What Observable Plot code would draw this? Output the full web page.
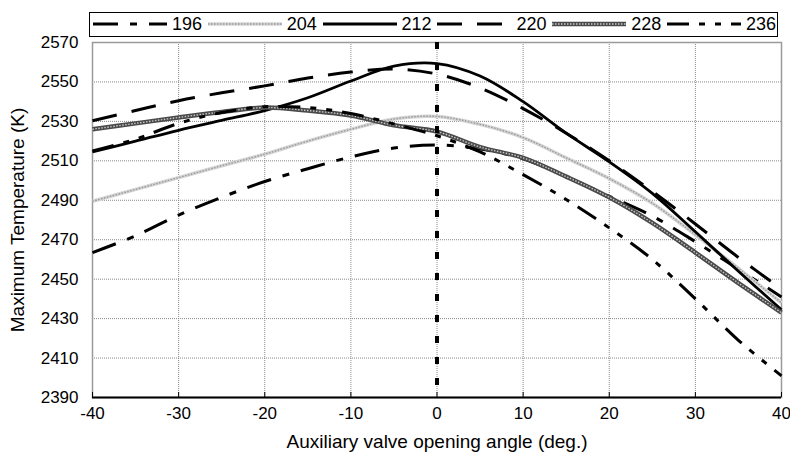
<!DOCTYPE html>
<html>
<head>
<meta charset="utf-8">
<script src="https://cdn.jsdelivr.net/npm/d3@7"></script>
<script src="https://cdn.jsdelivr.net/npm/@observablehq/plot@0.6"></script>
<style>
  html, body { margin: 0; padding: 0; background: #fff; }
  #wrap { position: relative; width: 790px; height: 461px; font-family: "Liberation Sans", Arial, sans-serif; }
  #legend { position: absolute; left: 89px; top: 12px; width: 689px; height: 25px; border: 1.5px solid #000; background: #fff; box-sizing: border-box; overflow: hidden; white-space: nowrap; }
  .item { position: absolute; top: 0; height: 22px; display: flex; align-items: center; }
  .item span { font-size: 18px; margin-left: 5px; line-height: 22px; }
</style>
</head>
<body>
<div id="wrap"><div id="legend"></div></div>
<script>
// ---- data ----
const angles = [-40, -35, -30, -25, -20, -15, -10, -5, 0, 5, 10, 15, 20, 25, 30, 35, 40];
const seriesNames = ["196", "204", "212", "220", "228", "236"];
const t196 = [2463.5, 2472, 2482.5, 2491.5, 2499.5, 2506, 2512, 2516.5, 2518, 2516, 2511, 2502, 2492, 2482, 2469, 2455, 2441];
const t204 = [2489.5, 2495.5, 2501.5, 2507.5, 2513.4, 2520, 2526, 2531.2, 2532.5, 2528.5, 2521.8, 2511.5, 2501, 2488.5, 2472.5, 2455.5, 2438];
const t212 = [2514.5, 2520, 2525.5, 2530.5, 2535.5, 2542, 2550.5, 2558, 2559.3, 2553, 2540, 2524, 2509.5, 2493.5, 2474, 2454, 2434.5];
const t220 = [2530.3, 2535.5, 2540.5, 2544.5, 2548, 2552, 2555, 2556.6, 2554, 2547, 2536.5, 2524, 2510, 2494.5, 2478, 2461, 2445];
const t228 = [2526, 2529, 2532, 2534.8, 2537, 2535.5, 2533, 2528, 2524.8, 2517, 2511.5, 2502, 2491.5, 2478.5, 2463.5, 2448, 2433];
const t236 = [2515, 2521, 2529, 2534.5, 2537.4, 2537, 2534, 2528.7, 2522.7, 2514.5, 2503, 2490.4, 2476, 2460, 2440, 2419, 2401];
const xTicks = [-40, -30, -20, -10, 0, 10, 20, 30, 40];
const yTicks = [2390, 2410, 2430, 2450, 2470, 2490, 2510, 2530, 2550, 2570];
const refAngle = [0];
const xTitle = "Auxiliary valve opening angle (deg.)";
const yTitle = "Maximum Temperature (K)";

// ---- styles ----
const styles = {
  "196": [{stroke: "#000", strokeWidth: 3, strokeDasharray: "25,12,7,12"}],
  "204": [{stroke: "#d4d4d4", strokeWidth: 3.5}, {stroke: "#9a9a9a", strokeWidth: 1.4, strokeDasharray: "1.5,1.5"}],
  "212": [{stroke: "#000", strokeWidth: 2.8}],
  "220": [{stroke: "#000", strokeWidth: 3, strokeDasharray: "25,15"}],
  "228": [{stroke: "#4a4a4a", strokeWidth: 4.5}, {stroke: "#c8c8c8", strokeWidth: 1.4, strokeDasharray: "1.5,1.5"}],
  "236": [{stroke: "#000", strokeWidth: 3, strokeDasharray: "22,10,6,10,6,10"}]
};
const valuesBy = {"196": t196, "204": t204, "212": t212, "220": t220, "228": t228, "236": t236};
const rows = name => angles.map((a, i) => ({angle: a, temp: valuesBy[name][i]}));

const lineMarks = [];
for (const name of seriesNames) {
  for (const s of styles[name]) {
    lineMarks.push(Plot.line(rows(name), {x: "angle", y: "temp", curve: "catmull-rom", strokeLinecap: "butt", ...s}));
  }
}

const W = 790, H = 461, mL = 92, mR = 9, mT = 42, mB = 64;
const plot = Plot.plot({
  width: W, height: H,
  marginLeft: mL, marginRight: mR, marginTop: mT, marginBottom: mB,
  style: {fontFamily: "'Liberation Sans', Arial, sans-serif", fontSize: "17px", color: "#000", background: "#fff"},
  x: {domain: [-40, 40]},
  y: {domain: [2390, 2570]},
  marks: [
    Plot.gridX(xTicks, {stroke: "#8a8a8a", strokeOpacity: 1, strokeDasharray: "1,1"}),
    Plot.gridY(yTicks, {stroke: "#8a8a8a", strokeOpacity: 1, strokeDasharray: "1,1"}),
    Plot.frame({stroke: "#9a9a9a", strokeWidth: 1.5}),
    Plot.ruleY([2390], {stroke: "#000", strokeWidth: 2}),
    Plot.tickX(xTicks, {x: d => d, stroke: "#000", strokeWidth: 1, insetTop: H - mT - mB - 5}),
    ...lineMarks,
    Plot.ruleX(refAngle, {stroke: "#000", strokeWidth: 4, strokeDasharray: "7,14"}),
    Plot.axisX({ticks: xTicks, tickSize: 0, tickPadding: 9, tickFormat: d => String(d), label: null, fontSize: 17}),
    Plot.axisX({ticks: [], label: xTitle, labelAnchor: "center", labelArrow: "none", labelOffset: 50, fontSize: 19}),
    Plot.axisY({ticks: yTicks, tickSize: 0, tickPadding: 14, tickFormat: d => String(d), label: null, fontSize: 17}),
    Plot.axisY({ticks: [], label: yTitle, labelAnchor: "center", labelArrow: "none", labelOffset: 82, fontSize: 19})
  ]
});
document.getElementById("wrap").prepend(plot);

// ---- legend ----
const legend = document.getElementById("legend");
seriesNames.forEach((name, i) => {
  const item = document.createElement("div");
  item.className = "item";
  item.style.left = (3 + 114.8 * i) + "px";
  const ns = "http://www.w3.org/2000/svg";
  const svg = document.createElementNS(ns, "svg");
  svg.setAttribute("width", 74); svg.setAttribute("height", 22);
  for (const s of styles[name]) {
    const ln = document.createElementNS(ns, "line");
    ln.setAttribute("x1", 0); ln.setAttribute("x2", 74);
    ln.setAttribute("y1", 11); ln.setAttribute("y2", 11);
    ln.setAttribute("stroke", s.stroke);
    ln.setAttribute("stroke-width", s.strokeWidth);
    if (s.strokeDasharray) ln.setAttribute("stroke-dasharray", s.strokeDasharray);
    svg.appendChild(ln);
  }
  item.appendChild(svg);
  const sp = document.createElement("span");
  sp.textContent = name;
  item.appendChild(sp);
  legend.appendChild(item);
});
</script>
</body>
</html>
